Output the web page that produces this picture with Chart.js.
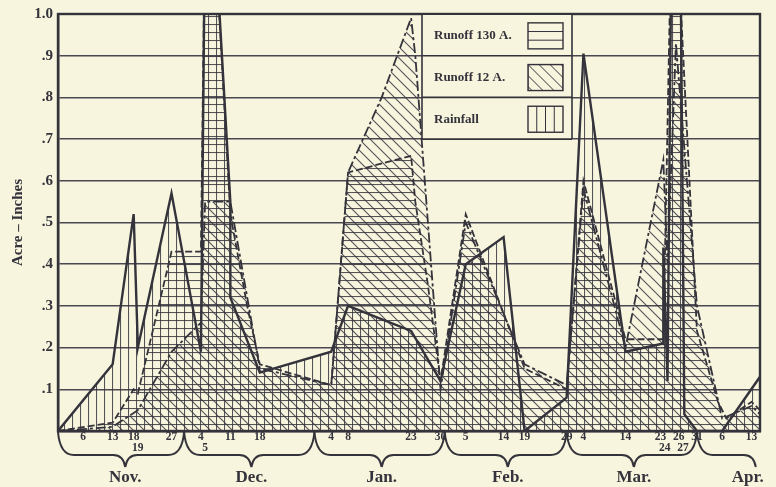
<!DOCTYPE html>
<html><head><meta charset="utf-8">
<script src="https://cdn.jsdelivr.net/npm/chart.js@4"></script>
<style>html,body{margin:0;padding:0;background:#f7f5dd;}</style>
</head><body>
<canvas id="c" width="776" height="487"></canvas>
<script>
// ---- data ----
const monthOffset = {Oct:-31, Nov:0, Dec:30, Jan:61, Feb:92, Mar:121, Apr:152};
const months = ['Nov.','Dec.','Jan.','Feb.','Mar.','Apr.'];
const monthStarts = ['Oct 31','Nov 30','Dec 31','Jan 31','Feb 29','Mar 31'];
const monthEnds   = ['Nov 30','Dec 31','Jan 31','Feb 29','Mar 31','Apr 30'];
const monthTips   = ['Nov 16','Dec 16','Jan 16','Feb 15','Mar 16','Apr 14'];

const tickDates  = ['Nov 6','Nov 13','Nov 18','Nov 19','Nov 27','Dec 4','Dec 5','Dec 11','Dec 18','Jan 4','Jan 8','Jan 23','Jan 30','Feb 5','Feb 14','Feb 19','Feb 29','Mar 4','Mar 14','Mar 23','Mar 24','Mar 26','Mar 27','Mar 31','Apr 6','Apr 13'];
const lowerTicks = ['Nov 19','Dec 5','Mar 24','Mar 27'];
const shiftLeftTicks  = ['Mar 23','Mar 24'];
const shiftRightTicks = ['Mar 26','Mar 27'];
const yTickLabels = ['', '.1', '.2', '.3', '.4', '.5', '.6', '.7', '.8', '.9', '1.0'];

const rainDates  = ['Oct 31','Nov 13','Nov 18','Nov 19','Nov 27','Dec 4','Dec 5','Dec 7','Dec 11','Dec 11','Dec 18','Jan 4','Jan 8','Jan 23','Jan 30','Feb 5','Feb 14','Feb 19','Feb 29','Mar 4','Mar 14','Mar 23','Mar 23','Mar 24','Mar 25','Mar 27','Mar 28','Mar 31','Apr 6','Apr 15'];
const rainValues = [0,0.16,0.52,0.20,0.57,0.19,1.25,1.25,0.55,0.32,0.14,0.19,0.30,0.24,0.12,0.40,0.465,0,0.08,0.905,0.19,0.21,0.44,0.12,1.25,1.25,0.04,0,0,0.13];

const runoff130Dates  = ['Oct 31','Nov 13','Nov 18','Nov 19','Nov 27','Dec 4','Dec 5','Dec 7','Dec 11','Dec 15','Dec 18','Jan 4','Jan 8','Jan 23','Jan 24','Jan 27','Jan 30','Feb 5','Feb 19','Feb 29','Mar 4','Mar 14','Mar 23','Mar 25','Mar 26','Mar 31','Apr 5','Apr 7','Apr 13','Apr 15'];
const runoff130Values = [0,0.02,0.10,0.09,0.43,0.43,1.25,1.25,0.52,0.30,0.16,0.11,0.62,0.66,0.55,0.35,0.12,0.52,0.15,0.10,0.60,0.22,0.22,1.25,1.25,0.24,0.07,0.03,0.07,0.05];

const runoff12Dates  = ['Oct 31','Nov 13','Nov 19','Nov 27','Dec 4','Dec 5','Dec 11','Dec 18','Jan 4','Jan 8','Jan 16','Jan 23','Jan 24','Jan 30','Feb 5','Feb 19','Feb 29','Mar 4','Mar 14','Mar 23','Mar 24','Mar 26','Mar 31','Apr 6','Apr 13','Apr 15'];
const runoff12Values = [0,0.01,0.05,0.19,0.26,0.55,0.55,0.15,0.11,0.62,0.80,0.99,0.90,0.10,0.50,0.16,0.11,0.58,0.20,0.65,0.40,0.93,0.30,0.03,0.06,0.04];

const seriesNames = ['Runoff 130 A.','Runoff 12 A.','Rainfall'];

// ---- helpers ----
function day(s){ const p = s.split(' '); return monthOffset[p[0]] + Number(p[1]); }
function pts(dates, vals){ return dates.map((d,i)=>({x:day(d), y:vals[i]})); }

const BG = '#f7f5dd', INK = '#34333b', HATCH = 'rgba(55,54,64,0.85)';
const SERIF = '"Liberation Serif","DejaVu Serif",serif';

function makePattern(kind){
  const c = document.createElement('canvas');
  const s = kind === 'diag' ? 11 : 8;
  c.width = s; c.height = s;
  const g = c.getContext('2d');
  g.strokeStyle = HATCH; g.lineWidth = 1.1;
  g.beginPath();
  if (kind === 'v'){ g.moveTo(0.5,0); g.lineTo(0.5,s); }
  else if (kind === 'h'){ g.moveTo(0,0.5); g.lineTo(s,0.5); }
  else { g.moveTo(-1,-1); g.lineTo(s+1,s+1); g.moveTo(-1,s-1); g.lineTo(1,s+1); g.moveTo(s-1,-1); g.lineTo(s+1,1); }
  g.stroke();
  return document.getElementById('c').getContext('2d').createPattern(c,'repeat');
}
const patV = makePattern('v'), patH = makePattern('h'), patD = makePattern('diag');

const decor = {
  id:'decor',
  beforeDraw(chart){
    const ctx = chart.ctx; ctx.save(); ctx.fillStyle = BG; ctx.fillRect(0,0,chart.width,chart.height); ctx.restore();
  },
  afterDraw(chart){
    const ctx = chart.ctx, xs = chart.scales.x, ys = chart.scales.y, a = chart.chartArea;
    ctx.save();
    ctx.strokeStyle = INK; ctx.lineWidth = 2.4;
    ctx.strokeRect(a.left, a.top, a.right-a.left, a.bottom-a.top);
    // legend
    const rows = [[1.0,0.9],[0.9,0.8],[0.8,0.7]];
    const L = 422, R = 572;
    ctx.fillStyle = BG;
    ctx.fillRect(L, ys.getPixelForValue(1.0)+1, R-L, ys.getPixelForValue(0.7)-ys.getPixelForValue(1.0)-1);
    ctx.strokeStyle = INK; ctx.lineWidth = 1.6;
    ctx.beginPath();
    ctx.moveTo(L, ys.getPixelForValue(1.0)); ctx.lineTo(L, ys.getPixelForValue(0.7));
    ctx.moveTo(R, ys.getPixelForValue(1.0)); ctx.lineTo(R, ys.getPixelForValue(0.7));
    [0.9,0.8,0.7].forEach(v=>{ const y=ys.getPixelForValue(v); ctx.moveTo(L,y); ctx.lineTo(R,y); });
    ctx.stroke();
    ctx.font = 'bold 13px ' + SERIF; ctx.fillStyle = INK; ctx.textBaseline = 'middle'; ctx.textAlign = 'left';
    rows.forEach((r,i)=>{
      const y1 = ys.getPixelForValue(r[0]), y2 = ys.getPixelForValue(r[1]);
      const cy = (y1+y2)/2 + 1;
      ctx.fillText(seriesNames[i], 434, cy);
      const bx = 528, bw = 35, by = cy-13, bh = 26;
      ctx.lineWidth = 1.4; ctx.strokeStyle = INK;
      ctx.strokeRect(bx, by, bw, bh);
      ctx.beginPath(); ctx.lineWidth = 1;
      if (i===0){ ctx.moveTo(bx,by+bh/3); ctx.lineTo(bx+bw,by+bh/3); ctx.moveTo(bx,by+2*bh/3); ctx.lineTo(bx+bw,by+2*bh/3); }
      else if (i===1){
        ctx.save(); ctx.rect(bx,by,bw,bh); ctx.clip();
        for (let k=-2;k<=3;k++){ const ox = bx + k*11; ctx.moveTo(ox, by); ctx.lineTo(ox+bh, by+bh); }
        ctx.stroke(); ctx.restore(); ctx.beginPath();
      } else { for (let k=1;k<4;k++){ ctx.moveTo(bx+k*bw/4,by); ctx.lineTo(bx+k*bw/4,by+bh); } }
      ctx.stroke();
    });
    // braces + month labels
    ctx.strokeStyle = INK; ctx.lineWidth = 2; ctx.fillStyle = INK;
    ctx.font = 'bold 17px ' + SERIF; ctx.textAlign = 'center'; ctx.textBaseline = 'middle';
    const yT = a.bottom + 1, yM = 455, yP = 467;
    months.forEach((m,i)=>{
      const x1 = xs.getPixelForValue(day(monthStarts[i]));
      const x2 = xs.getPixelForValue(day(monthEnds[i]));
      const xm = Math.min(xs.getPixelForValue(day(monthTips[i])), a.right - 3);
      ctx.beginPath();
      ctx.moveTo(x1, yT);
      ctx.quadraticCurveTo(x1+2, yM, x1+16, yM);
      ctx.lineTo(xm-12, yM);
      ctx.quadraticCurveTo(xm-2, yM, xm, yP);
      if (x2 <= a.right + 1){
        ctx.moveTo(xm, yP);
        ctx.quadraticCurveTo(xm+2, yM, xm+12, yM);
        ctx.lineTo(x2-16, yM);
        ctx.quadraticCurveTo(x2-2, yM, x2, yT);
      }
      ctx.stroke();
      const lxp = x2 <= a.right + 1 ? xm : xm - 8;
      ctx.fillText(m, lxp, 478);
    });
    ctx.restore();
  }
};

new Chart(document.getElementById('c'), {
  type:'line',
  data:{ datasets:[
    { label:seriesNames[2], data:pts(rainDates, rainValues), order:1,
      borderColor:INK, borderWidth:2.4, backgroundColor:patV, fill:'origin', pointRadius:0, tension:0 },
    { label:seriesNames[0], data:pts(runoff130Dates, runoff130Values), order:2,
      borderColor:INK, borderWidth:1.8, borderDash:[7,3], backgroundColor:patH, fill:'origin', pointRadius:0, tension:0 },
    { label:seriesNames[1], data:pts(runoff12Dates, runoff12Values), order:3,
      borderColor:INK, borderWidth:1.8, borderDash:[10,3,3,3], backgroundColor:patD, fill:'origin', pointRadius:0, tension:0 }
  ]},
  options:{
    responsive:false, animation:false, devicePixelRatio:1,
    layout:{ padding:{ top:10, right:16, left:0, bottom:0 } },
    plugins:{ legend:{display:false}, tooltip:{enabled:false} },
    scales:{
      x:{ type:'linear', min:0, max:167,
        afterFit(s){ s.height = 56; },
        afterBuildTicks(s){ s.ticks = tickDates.map(d=>({value:day(d)})); },
        grid:{ display:false, drawTicks:false },
        border:{ display:true, color:INK, width:2.4 },
        ticks:{ autoSkip:false, maxRotation:0, minRotation:0, padding:1, color:INK,
          font:{ family:SERIF, size:11.5, weight:'bold', lineHeight:0.95 },
          callback(v, i){
            const d = tickDates[i];
            let t = d.split(' ')[1];
            if (shiftLeftTicks.includes(d)) t = t + '\u2002';
            if (shiftRightTicks.includes(d)) t = '\u2002' + t;
            return lowerTicks.includes(d) ? ['', t] : t;
          } }
      },
      y:{ min:0, max:1.0,
        afterFit(s){ s.width = 58; },
        grid:{ color:'#4a4952', lineWidth:1.5, drawTicks:false },
        border:{ display:true, color:INK, width:2.4 },
        ticks:{ stepSize:0.1, padding:5, color:INK, font:{ family:SERIF, size:15, weight:'bold' },
          callback(v){ return yTickLabels[Math.round(v*10)]; } },
        title:{ display:true, text:'Acre – Inches', color:INK, padding:{top:9,bottom:0},
          font:{ family:SERIF, size:15, weight:'bold' } }
      }
    }
  },
  plugins:[decor]
});
</script>
</body></html>
